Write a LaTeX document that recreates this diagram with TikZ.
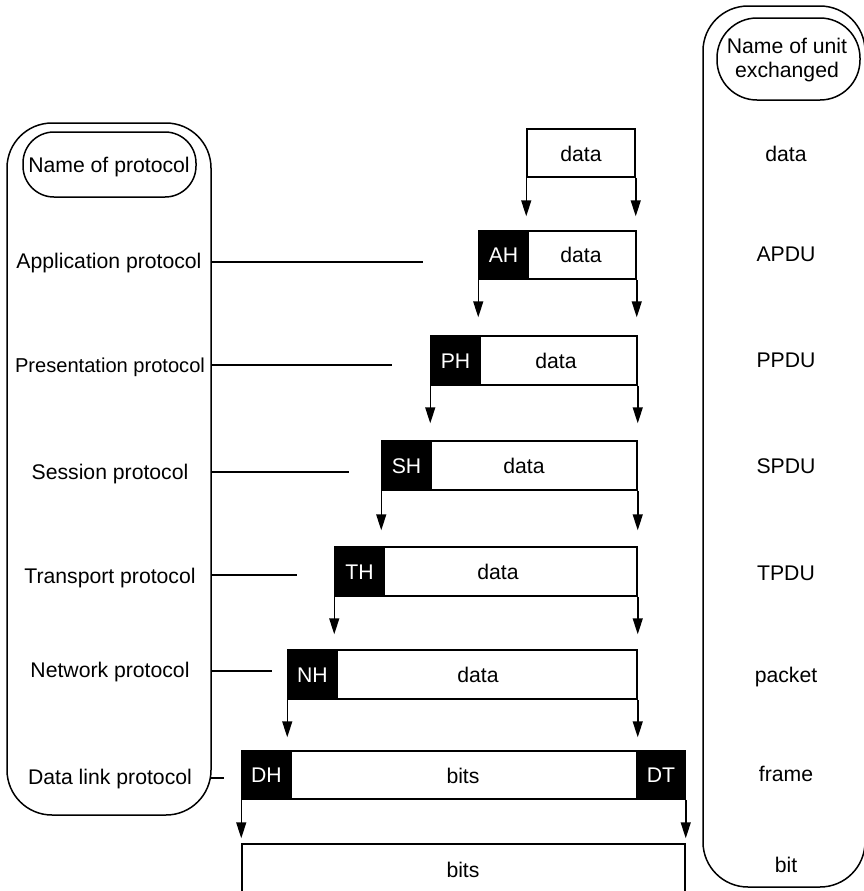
\documentclass[tikz,border=0pt]{standalone}
\usepackage{fontspec}
\setmainfont{Liberation Sans}
\usetikzlibrary{arrows.meta,fit}
\begin{document}
\begin{tikzpicture}[x=0.5pt,y=-0.5pt,line width=0.75pt,
  fnt/.style={font=\fontsize{10.6}{12.5}\selectfont},
  txt/.style={fnt,inner sep=0pt,text height=7.6pt,text depth=0pt},
  wtxt/.style={txt,text=white},
  pdu/.style={draw,inner sep=0pt},
  hdr/.style={draw,fill=black,inner sep=0pt},
  panel/.style={draw,inner sep=0pt,rounded corners=22.5pt},
  tag/.style={draw,inner sep=0pt,rounded corners=15.5pt},
  arr/.style={-{Triangle[length=8pt,width=5pt]}},
  lead/.style={line width=0.75pt}]
\clip (0,0) rectangle (864,891);

% ---- left panel: protocol names
\node[panel,fit={(7,123)(211,815)}] (protbox) {};
\node[tag,fit={(23,132)(196,197)}] (protname) {};
\node[txt] (protnametxt) at (109,164.5) {Name of protocol};
\node[txt] (lapp)  at (109,261) {Application protocol};
\node[txt,font=\fontsize{10.05}{12}\selectfont] (lpres) at (110,365) {Presentation protocol};
\node[txt] (lsess) at (110,472) {Session protocol};
\node[txt] (ltran) at (110,576) {Transport protocol};
\node[txt] (lnet)  at (110,670) {Network protocol};
\node[txt] (ldl)   at (110,777) {Data link protocol};

% ---- right panel: unit names
\node[panel,fit={(703,6)(865,887)}] (unitbox) {};
\node[draw,inner sep=0pt,rounded corners=20pt,fit={(717,18)(860,100)}] (unitname) {};
\node[fnt,align=center,inner sep=0pt,font=\fontsize{10.6}{11.6}\selectfont] (unitnametxt) at (787,60) {Name of unit\\exchanged};
\node[txt] (udata) at (786,154) {data};
\node[txt] (uapdu) at (786,254) {APDU};
\node[txt] (uppdu) at (786,360) {PPDU};
\node[txt] (uspdu) at (786,466) {SPDU};
\node[txt] (utpdu) at (786,573) {TPDU};
\node[txt] (upkt)  at (786,675) {packet};
\node[txt] (ufrm)  at (786,774) {frame};
\node[txt] (ubit)  at (786,865) {bit};

% ---- data units
\node[pdu,fit={(527,129)(635,177)}] (d0) {};
\node[txt] (d0t) at (581,154) {data};

\node[pdu,fit={(479,231)(636,279)}] (ap) {};
\node[hdr,fit={(479,231)(528,279)}] (ah) {};
\node[wtxt] (aht) at (ah) {AH};
\node[txt] (apt) at (581,254.5) {data};

\node[pdu,fit={(431,336)(637,385)}] (pp) {};
\node[hdr,fit={(431,336)(480,385)}] (ph) {};
\node[wtxt] (pht) at (ph) {PH};
\node[txt] (ppt) at (556,361) {data};

\node[pdu,fit={(382,441)(637,490)}] (sp) {};
\node[hdr,fit={(382,441)(431,490)}] (sh) {};
\node[wtxt] (sht) at (sh) {SH};
\node[txt] (spt) at (524,465.5) {data};

\node[pdu,fit={(335,547)(637,596)}] (tp) {};
\node[hdr,fit={(335,547)(384,596)}] (th) {};
\node[wtxt] (tht) at (th) {TH};
\node[txt] (tpt) at (498,571.5) {data};

\node[pdu,fit={(288,650)(637,699)}] (np) {};
\node[hdr,fit={(288,650)(337,699)}] (nh) {};
\node[wtxt] (nht) at (nh) {NH};
\node[txt] (npt) at (478,674.5) {data};

\node[pdu,fit={(242,751)(685,799)}] (fr) {};
\node[hdr,fit={(242,751)(291,799)}] (dh) {};
\node[hdr,fit={(637,751)(685,799)}] (dt) {};
\node[wtxt] (dht) at (dh) {DH};
\node[wtxt] (dtt) at (dt) {DT};
\node[txt] (frt) at (463,775.5) {bits};

\node[pdu,fit={(242,844)(685,910)}] (bt) {};
\node[txt] (btt) at (463,870) {bits};

% ---- encapsulation arrows
\draw[arr,shorten >=7pt]   (d0.south west) -- (d0.south west |- ap.north);
\draw[arr,shorten >=7pt]   (d0.south east) -- (d0.south east |- ap.north);
\draw[arr,shorten >=9pt]   (ap.south west) -- (ap.south west |- pp.north);
\draw[arr,shorten >=9pt]   (ap.south east) -- (ap.south east |- pp.north);
\draw[arr,shorten >=8.5pt] (pp.south west) -- (pp.south west |- sp.north);
\draw[arr,shorten >=8.5pt] (pp.south east) -- (pp.south east |- sp.north);
\draw[arr,shorten >=8pt]   (sp.south west) -- (sp.south west |- tp.north);
\draw[arr,shorten >=8pt]   (sp.south east) -- (sp.south east |- tp.north);
\draw[arr,shorten >=7.5pt] (tp.south west) -- (tp.south west |- np.north);
\draw[arr,shorten >=7.5pt] (tp.south east) -- (tp.south east |- np.north);
\draw[arr,shorten >=6.5pt] (np.south west) -- (np.south west |- fr.north);
\draw[arr,shorten >=6.5pt] (np.south east) -- (np.south east |- fr.north);
\draw[arr,shorten >=2.5pt] (fr.south west) -- (fr.south west |- bt.north);
\draw[arr,shorten >=2.5pt] (fr.south east) -- (fr.south east |- bt.north);

% ---- leader lines from protocol names
\coordinate (eapp)  at (423,262);
\coordinate (epres) at (392,365);
\coordinate (esess) at (349,472);
\coordinate (etran) at (297,575);
\coordinate (enet)  at (272,671);
\coordinate (edl)   at (224,778);
\draw[lead] (protbox.east |- eapp)  -- (eapp);
\draw[lead] (protbox.east |- epres) -- (epres);
\draw[lead] (protbox.east |- esess) -- (esess);
\draw[lead] (protbox.east |- etran) -- (etran);
\draw[lead] (protbox.east |- enet)  -- (enet);
\draw[lead] (210.3,778) -- (edl);
\end{tikzpicture}
\end{document}
